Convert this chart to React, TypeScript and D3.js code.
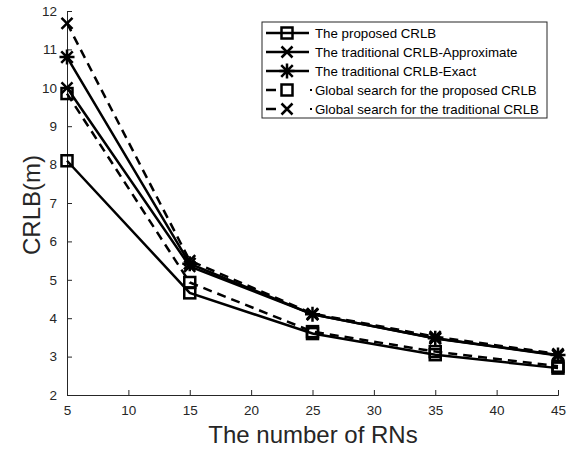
import React, { useEffect, useRef } from 'react';
import * as d3 from 'd3';

// number of RNs
const rns = [5, 15, 25, 35, 45];

const proposed = [8.1, 4.66, 3.6, 3.05, 2.7];
const tradApprox = [10.0, 5.35, 4.1, 3.47, 3.03];
const tradExact = [10.8, 5.42, 4.1, 3.48, 3.04];
const globalProposed = [9.85, 4.93, 3.65, 3.13, 2.75];
const globalTrad = [11.68, 5.5, 4.12, 3.52, 3.07];

const xTicks = [5, 10, 15, 20, 25, 30, 35, 40, 45];
const yTicks = [2, 3, 4, 5, 6, 7, 8, 9, 10, 11, 12];

const series = [
  { name: 'The proposed CRLB', values: proposed, marker: 'square', dashed: false },
  { name: 'The traditional CRLB-Approximate', values: tradApprox, marker: 'x', dashed: false },
  { name: 'The traditional CRLB-Exact', values: tradExact, marker: 'star', dashed: false },
  { name: 'Global search for the proposed CRLB', values: globalProposed, marker: 'square', dashed: true },
  { name: 'Global search for the traditional CRLB', values: globalTrad, marker: 'x', dashed: true },
];

function drawMarker(g: any, type: string, cx: number, cy: number) {
  const s = 5.5;
  if (type === 'square') {
    g.append('rect')
      .attr('x', cx - s).attr('y', cy - s)
      .attr('width', 2 * s).attr('height', 2 * s)
      .attr('fill', 'none').attr('stroke', '#000').attr('stroke-width', 2.5);
  } else if (type === 'x') {
    g.append('path')
      .attr('d', `M${cx - s},${cy - s}L${cx + s},${cy + s}M${cx - s},${cy + s}L${cx + s},${cy - s}`)
      .attr('stroke', '#000').attr('stroke-width', 2.5).attr('fill', 'none');
  } else {
    const p = s * 1.05;
    g.append('path')
      .attr('d', `M${cx - p},${cy - p}L${cx + p},${cy + p}M${cx - p},${cy + p}L${cx + p},${cy - p}M${cx},${cy - p * 1.3}L${cx},${cy + p * 1.3}M${cx - p * 1.3},${cy}L${cx + p * 1.3},${cy}`)
      .attr('stroke', '#000').attr('stroke-width', 2.5).attr('fill', 'none');
  }
}

export default function App() {
  const ref = useRef<SVGSVGElement>(null);

  useEffect(() => {
    const svg = d3.select(ref.current);
    svg.selectAll('*').remove();

    const x = d3.scaleLinear().domain([5, 45]).range([67, 558]);
    const y = d3.scaleLinear().domain([2, 12]).range([395, 11]);
    const font = 'Liberation Sans, Arial, sans-serif';

    // axes (MATLAB style, ticks inward)
    const xAxis = svg.append('g').attr('transform', 'translate(0,395)')
      .call(d3.axisBottom(x).tickValues(xTicks).tickSizeInner(-5).tickSizeOuter(-5).tickPadding(10));
    const yAxis = svg.append('g').attr('transform', 'translate(67,0)')
      .call(d3.axisLeft(y).tickValues(yTicks).tickSizeInner(-5).tickSizeOuter(-5).tickPadding(10));
    [xAxis, yAxis].forEach(a => {
      a.select('.domain').attr('stroke', '#262626').attr('stroke-width', 1);
      a.selectAll('.tick line').attr('stroke', '#262626');
      a.selectAll('.tick text').attr('fill', '#262626').style('font-family', font).style('font-size', '13.5px');
    });

    const line = d3.line<number>().x((_, i) => x(rns[i])).y(d => y(d));
    series.forEach(s => {
      const g = svg.append('g');
      g.append('path')
        .attr('d', line(s.values))
        .attr('fill', 'none').attr('stroke', '#000').attr('stroke-width', 2.5)
        .attr('stroke-dasharray', s.dashed ? '9,6' : null);
      s.values.forEach((v, i) => drawMarker(g, s.marker, x(rns[i]), y(v)));
    });

    // legend
    const lg = svg.append('g');
    lg.append('rect').attr('x', 262).attr('y', 22).attr('width', 285).attr('height', 96)
      .attr('fill', '#fff').attr('stroke', '#262626').attr('stroke-width', 1);
    series.forEach((s, i) => {
      const ly = 33 + i * 19;
      const g = lg.append('g');
      if (s.dashed) {
        g.append('path').attr('d', `M266,${ly}L276,${ly}`).attr('stroke', '#000').attr('stroke-width', 2.5);
        g.append('rect').attr('x', 310).attr('y', ly - 1).attr('width', 2).attr('height', 2).attr('fill', '#000');
      } else {
        g.append('path').attr('d', `M266,${ly}L309,${ly}`).attr('stroke', '#000').attr('stroke-width', 2.5);
      }
      drawMarker(g, s.marker, 287, ly);
      g.append('text').attr('x', 315).attr('y', ly + 4.5)
        .style('font-family', font).style('font-size', '13.3px').attr('fill', '#000')
        .text(s.name);
    });

    svg.append('text')
      .attr('x', 313).attr('y', 443).attr('text-anchor', 'middle')
      .style('font-family', font).style('font-size', '24px').attr('fill', '#262626')
      .text('The number of RNs');
    svg.append('text')
      .attr('transform', 'translate(40,205) rotate(-90)').attr('text-anchor', 'middle')
      .style('font-family', font).style('font-size', '24px').attr('fill', '#262626')
      .text('CRLB(m)');
  }, []);

  return (
    <svg ref={ref} width={576} height={453}
      style={{ position: 'absolute', left: 0, top: 0, background: '#fff' }} />
  );
}
